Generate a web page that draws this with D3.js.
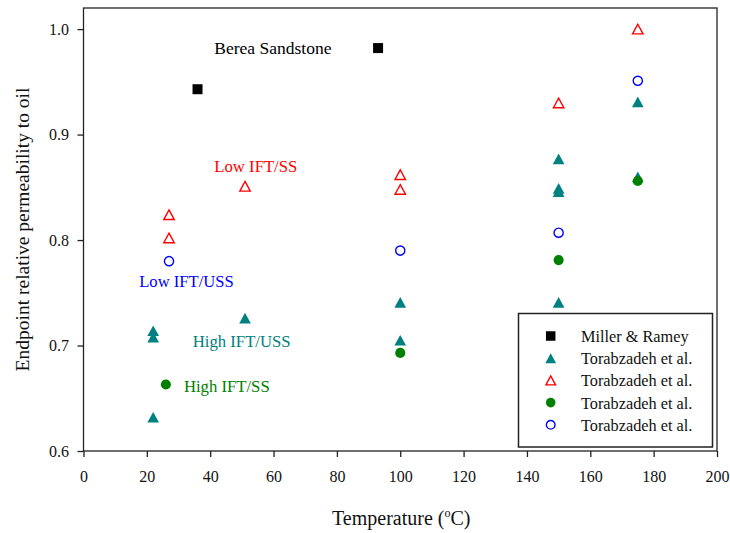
<!DOCTYPE html>
<html>
<head>
<meta charset="utf-8">
<script src="https://cdn.jsdelivr.net/npm/d3@7"></script>
<style>
  body { margin: 0; background: #fff; }
  svg { display: block; font-family: "Liberation Serif", "Times New Roman", serif; }
</style>
</head>
<body>
<svg id="chart" width="730" height="533"></svg>
<script>
// x = temperature (C), y = endpoint kro
const millerTemp = [36, 93];
const millerKro = [0.943, 0.982];

const highUssTemp = [22, 22, 22, 51, 100, 100, 150, 150, 150, 150, 175, 175];
const highUssKro = [0.714, 0.708, 0.632, 0.726, 0.741, 0.705, 0.877, 0.849, 0.846, 0.741, 0.931, 0.860];

const lowSsTemp = [27, 27, 51, 100, 100, 150, 175];
const lowSsKro = [0.824, 0.802, 0.851, 0.862, 0.848, 0.930, 1.0];

const highSsTemp = [26, 100, 150, 175];
const highSsKro = [0.663, 0.693, 0.781, 0.856];

const lowUssTemp = [27, 100, 150, 175];
const lowUssKro = [0.780, 0.790, 0.807, 0.951];

const xTicks = [0, 20, 40, 60, 80, 100, 120, 140, 160, 180, 200];
const yTicks = [0.6, 0.7, 0.8, 0.9, 1.0];

const legendNames = ["Miller & Ramey", "Torabzadeh et al.", "Torabzadeh et al.", "Torabzadeh et al.", "Torabzadeh et al."];
const noteTexts = ["Berea Sandstone", "Low IFT/SS", "Low IFT/USS", "High IFT/USS", "High IFT/SS"];

const svg = d3.select("#chart");

// plot frame
const plotLeft = 83.5, plotRight = 717, plotTop = 8, plotBottom = 451;

const xScale = d3.scaleLinear().domain([0, 200]).range([plotLeft, plotRight]);
const yScale = d3.scaleLinear().domain([0.6, 1.02]).range([plotBottom, plotTop]);

// triangle centred on its bounding box, like the original plot software
const triangleBox = {
  draw(context, size) {
    const w = Math.sqrt(size);
    const h = w * 0.92;
    context.moveTo(0, -h / 2);
    context.lineTo(w / 2, h / 2);
    context.lineTo(-w / 2, h / 2);
    context.closePath();
  }
};

const series = [
  { temp: millerTemp, kro: millerKro, type: d3.symbolSquare, size: 100, fill: "#000", stroke: "none" },
  { temp: highUssTemp, kro: highUssKro, type: triangleBox, size: 136, fill: "#008080", stroke: "none" },
  { temp: lowSsTemp, kro: lowSsKro, type: triangleBox, size: 110, fill: "none", stroke: "#ff0000" },
  { temp: highSsTemp, kro: highSsKro, type: d3.symbolCircle, size: 80, fill: "#008000", stroke: "none" },
  { temp: lowUssTemp, kro: lowUssKro, type: d3.symbolCircle, size: 66, fill: "none", stroke: "#0000ff" }
];

// axes
const axisColor = "#222";

const xAxis = svg.append("g")
  .attr("transform", `translate(0, ${plotBottom})`)
  .call(d3.axisBottom(xScale).tickValues(xTicks).tickSize(6).tickPadding(14).tickFormat(d3.format("d")));

const yAxis = svg.append("g")
  .attr("transform", `translate(${plotLeft}, 0)`)
  .call(d3.axisLeft(yScale).tickValues(yTicks).tickSize(6).tickPadding(8.5).tickFormat(d3.format(".1f")));

[xAxis, yAxis].forEach(ax => {
  ax.select(".domain").remove();
  ax.selectAll("line").attr("stroke", axisColor).attr("stroke-width", 1.3);
  ax.selectAll("text")
    .attr("fill", "#111")
    .style("font-size", "16px")
    .style("font-family", "'Liberation Serif', serif");
});

svg.append("rect")
  .attr("x", plotLeft)
  .attr("y", plotTop)
  .attr("width", plotRight - plotLeft)
  .attr("height", plotBottom - plotTop)
  .attr("fill", "none")
  .attr("stroke", axisColor)
  .attr("stroke-width", 1.3);

// points
series.forEach(s => {
  const sym = d3.symbol().type(s.type).size(s.size);
  svg.append("g")
    .selectAll("path")
    .data(s.temp.map((t, i) => ({ t: t, k: s.kro[i] })))
    .join("path")
    .attr("transform", d => `translate(${xScale(d.t)}, ${yScale(d.k)})`)
    .attr("d", sym)
    .attr("fill", s.fill)
    .attr("stroke", s.stroke)
    .attr("stroke-width", 1.4);
});

// notes inside the plot (positions in data units)
const notePos = [[41.3, 0.9764], [41.3, 0.8648], [17.6, 0.7558], [34.5, 0.6989], [31.7, 0.6557]];
const noteColors = ["#000", "#ff0000", "#0000ff", "#008080", "#008000"];
const noteSizes = [17.5, 16.7, 16.6, 16.7, 16.7];

noteTexts.forEach((txt, i) => {
  svg.append("text")
    .attr("x", xScale(notePos[i][0]))
    .attr("y", yScale(notePos[i][1]))
    .attr("fill", noteColors[i])
    .style("font-size", noteSizes[i] + "px")
    .text(txt);
});

// legend
const legend = svg.append("g");
legend.append("rect")
  .attr("x", 518.5)
  .attr("y", 313.5)
  .attr("width", 194)
  .attr("height", 133.5)
  .attr("fill", "#fff")
  .attr("stroke", axisColor)
  .attr("stroke-width", 1.5);

legendNames.forEach((name, i) => {
  const s = series[i];
  const cy = 336 + i * 22.2;
  const small = s.type === triangleBox ? s.size * 0.85 : s.size * 0.9;
  legend.append("path")
    .attr("transform", `translate(550.7, ${cy})`)
    .attr("d", d3.symbol().type(s.type).size(small))
    .attr("fill", s.fill)
    .attr("stroke", s.stroke)
    .attr("stroke-width", 1.4);
  legend.append("text")
    .attr("x", 581)
    .attr("y", cy + 6)
    .attr("fill", "#111")
    .style("font-size", "16.3px")
    .text(name);
});

// axis titles
const xTitle = svg.append("text")
  .attr("x", (plotLeft + plotRight) / 2 + 1)
  .attr("y", 525)
  .attr("text-anchor", "middle")
  .attr("fill", "#111")
  .style("font-size", "20px");
xTitle.append("tspan").text("Temperature (");
xTitle.append("tspan").attr("dy", -8).style("font-size", "12px").text("o");
xTitle.append("tspan").attr("dy", 8).text("C)");

svg.append("text")
  .attr("transform", `translate(29, ${(plotTop + plotBottom) / 2}) rotate(-90)`)
  .attr("text-anchor", "middle")
  .attr("fill", "#111")
  .style("font-size", "19.5px")
  .text("Endpoint relative permeability to oil");
</script>
</body>
</html>
